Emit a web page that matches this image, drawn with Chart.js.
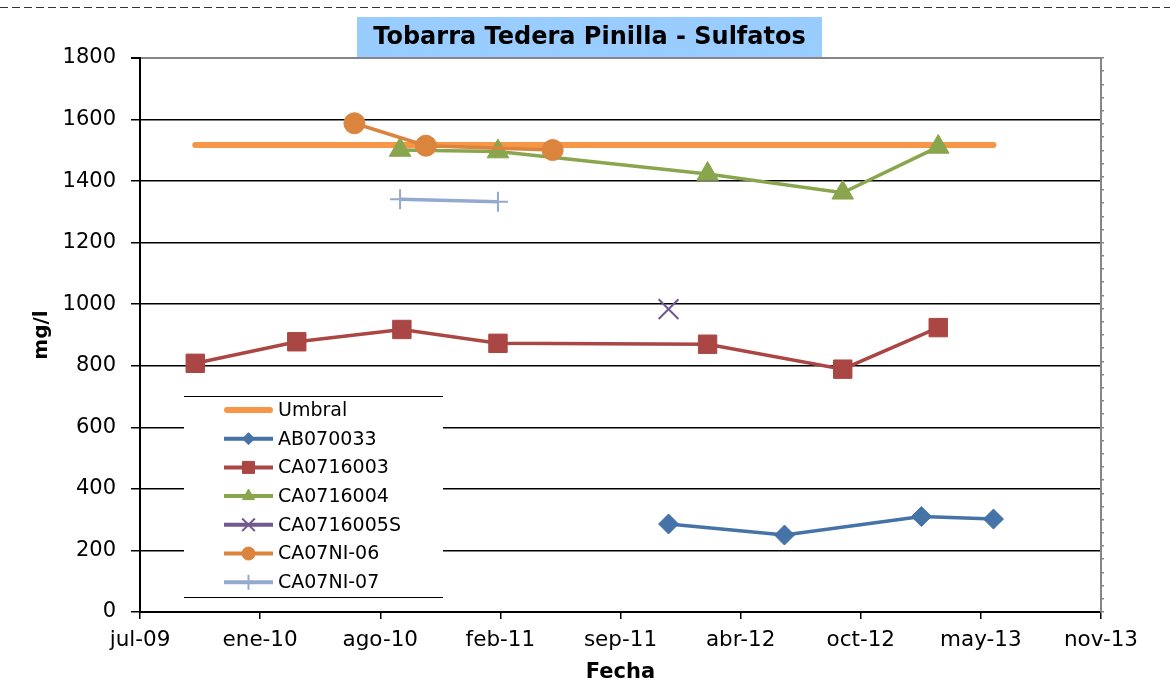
<!DOCTYPE html>
<html>
<head>
<meta charset="utf-8">
<script src="https://cdn.jsdelivr.net/npm/chart.js@4/dist/chart.umd.min.js"></script>
<style>
  body { margin: 0; background: #fff; }
  #wrap { width: 1170px; height: 696px; }
</style>
</head>
<body>
<div id="wrap"><canvas id="sulfatos" width="1170" height="696"></canvas></div>
<script>
// datos (fechas de muestreo y sulfatos en mg/l)
const umbralDates = ['2009-10-06', '2013-05-27'];
const umbralValues = [1517, 1517];

const ab070033Dates = ['2011-12-03', '2012-06-13', '2013-01-27', '2013-05-27'];
const ab070033Values = [286, 250, 310, 302];

const ca0716003Dates = ['2009-10-06', '2010-03-24', '2010-09-15', '2011-02-22', '2012-02-06', '2012-09-18', '2013-02-24'];
const ca0716003Values = [808, 878, 918, 873, 870, 789, 924];

const ca0716004Dates = ['2010-09-12', '2011-02-22', '2012-02-06', '2012-09-18', '2013-02-24'];
const ca0716004Values = [1501, 1496, 1423, 1362, 1511];

const ca0716005SDates = ['2011-12-03'];
const ca0716005SValues = [984];

const ni06Dates = ['2010-06-28', '2010-10-25', '2011-05-24'];
const ni06Values = [1588, 1515, 1501];

const ni07Dates = ['2010-09-12', '2011-02-22'];
const ni07Values = [1341, 1333];

const meses = ['ene', 'feb', 'mar', 'abr', 'may', 'jun', 'jul', 'ago', 'sep', 'oct', 'nov', 'dic'];

// fecha -> numero de serie de Excel
function toSerial(s) {
  const [y, m, d] = s.split('-').map(Number);
  return Date.UTC(y, m - 1, d) / 86400000 + 25569;
}

function serialLabel(v) {
  const d = new Date((v - 25569) * 86400000);
  return meses[d.getUTCMonth()] + '-' + String(d.getUTCFullYear()).slice(2);
}

function pts(dates, values) {
  return dates.map((d, i) => ({ x: toSerial(d), y: values[i] }));
}

Chart.defaults.font.family = 'DejaVu Sans';
Chart.defaults.color = '#000';

const series = [
  { label: 'Umbral', data: pts(umbralDates, umbralValues), color: '#F79646', width: 6, style: false, r: 0, lr: 0, order: 7 },
  { label: 'AB070033', data: pts(ab070033Dates, ab070033Values), color: '#4572A7', width: 3.5, style: 'rectRot', r: 10, lr: 6, order: 6 },
  { label: 'CA0716003', data: pts(ca0716003Dates, ca0716003Values), color: '#AA4643', width: 3.5, style: 'rect', r: 13, lr: 8.5, order: 5 },
  { label: 'CA0716004', data: pts(ca0716004Dates, ca0716004Values), color: '#89A54E', width: 3.5, style: 'triangle', r: 12.5, lr: 7, order: 4 },
  { label: 'CA0716005S', data: pts(ca0716005SDates, ca0716005SValues), color: '#71588F', width: 3.5, style: 'crossRot', r: 14, lr: 9, order: 3 },
  { label: 'CA07NI-06', data: pts(ni06Dates, ni06Values), color: '#DB843D', width: 3.5, style: 'circle', r: 10.5, lr: 6.5, order: 2 },
  { label: 'CA07NI-07', data: pts(ni07Dates, ni07Values), color: '#93A9CF', width: 3.5, style: 'cross', r: 10, lr: 7.5, order: 1 }
];

const datasets = series.map(s => ({
  label: s.label,
  data: s.data,
  borderColor: s.color,
  backgroundColor: s.color,
  borderWidth: s.width,
  borderCapStyle: s.label === 'Umbral' ? 'round' : 'butt',
  pointStyle: s.style,
  pointRadius: s.r,
  pointHoverRadius: s.r,
  pointBorderWidth: (s.style === 'cross' || s.style === 'crossRot') ? 2 : 1,
  pointBorderColor: s.color,
  pointBackgroundColor: s.color,
  tension: 0,
  order: s.order,
  legendR: s.lr
}));

// titulo con recuadro azul y linea discontinua superior
const titleBox = {
  id: 'titleBox',
  afterDraw(chart) {
    const ctx = chart.ctx;
    ctx.save();
    ctx.strokeStyle = '#333';
    ctx.lineWidth = 1;
    ctx.setLineDash([8, 4]);
    ctx.beginPath();
    ctx.moveTo(0, 7.5);
    ctx.lineTo(chart.width, 7.5);
    ctx.stroke();
    ctx.setLineDash([]);

    ctx.fillStyle = '#99CCFF';
    ctx.fillRect(357, 17, 465, 40);
    ctx.fillStyle = '#000';
    ctx.font = 'bold 24px "DejaVu Sans"';
    ctx.textAlign = 'center';
    ctx.textBaseline = 'middle';
    ctx.fillText('Tobarra Tedera Pinilla - Sulfatos', 589.5, 38);
    ctx.restore();
  }
};

// leyenda dentro del area del grafico
const boxLegend = {
  id: 'boxLegend',
  afterDraw(chart) {
    const ctx = chart.ctx;
    const x0 = 184, x1 = 443, y0 = 396, y1 = 597;
    ctx.save();
    ctx.fillStyle = '#fff';
    ctx.fillRect(x0, y0, x1 - x0, y1 - y0);
    ctx.strokeStyle = '#000';
    ctx.lineWidth = 1;
    ctx.beginPath();
    ctx.moveTo(x0, y0 + 0.5); ctx.lineTo(x1, y0 + 0.5);
    ctx.moveTo(x0, y1 + 0.5); ctx.lineTo(x1, y1 + 0.5);
    ctx.stroke();

    ctx.font = '19px "DejaVu Sans"';
    ctx.textBaseline = 'middle';
    ctx.textAlign = 'left';
    chart.data.datasets.forEach((ds, i) => {
      const y = 410 + i * 28.7;
      ctx.strokeStyle = ds.borderColor;
      ctx.lineWidth = ds.label === 'Umbral' ? 6 : 4;
      ctx.lineCap = ds.label === 'Umbral' ? 'round' : 'butt';
      ctx.beginPath();
      ctx.moveTo(ds.label === 'Umbral' ? 227 : 224, y);
      ctx.lineTo(ds.label === 'Umbral' ? 270 : 273, y);
      ctx.stroke();
      if (ds.pointStyle && Chart.helpers && Chart.helpers.drawPoint) {
        ctx.fillStyle = ds.pointBackgroundColor;
        ctx.strokeStyle = ds.pointBorderColor;
        ctx.lineWidth = ds.pointBorderWidth;
        Chart.helpers.drawPoint(ctx, {
          pointStyle: ds.pointStyle, radius: ds.legendR, rotation: 0, borderWidth: ds.pointBorderWidth
        }, 248.5, y);
      }
      ctx.fillStyle = '#000';
      ctx.fillText(ds.label, 278, y + 1);
    });
    ctx.restore();
  }
};

new Chart(document.getElementById('sulfatos'), {
  type: 'line',
  data: { datasets: datasets },
  plugins: [titleBox, boxLegend],
  options: {
    responsive: false,
    animation: false,
    devicePixelRatio: 1,
    layout: { padding: { top: 58, left: 0, right: 0, bottom: 0 } },
    plugins: {
      legend: { display: false },
      tooltip: { enabled: false }
    },
    scales: {
      x: {
        type: 'linear',
        min: 40000,
        max: 41600,
        ticks: {
          stepSize: 200,
          autoSkip: false,
          maxRotation: 0,
          padding: 9,
          font: { size: 21.5 },
          callback: v => serialLabel(v)
        },
        grid: {
          drawOnChartArea: false,
          drawTicks: true,
          tickLength: 7,
          tickColor: '#000',
          lineWidth: 1.5
        },
        border: { color: '#000', width: 2 },
        title: {
          display: true,
          text: 'Fecha',
          font: { size: 21, weight: 'bold' },
          padding: { top: 0, bottom: 11 }
        },
        afterFit: s => { s.height = 84; }
      },
      y: {
        min: 0,
        max: 1800,
        ticks: {
          stepSize: 200,
          padding: 15,
          font: { size: 21 },
          callback: v => String(v)
        },
        grid: {
          color: ctx => (ctx.tick && ctx.tick.value === 1800) ? '#868686' : '#000',
          lineWidth: ctx => (ctx.tick && ctx.tick.value === 1800) ? 2 : 1.5,
          tickColor: '#000',
          tickLength: 9
        },
        border: { color: '#000', width: 2 },
        title: {
          display: true,
          text: 'mg/l',
          font: { size: 20, weight: 'bold' },
          padding: { top: 30, bottom: 0 }
        },
        afterFit: s => { s.width = 140; }
      },
      y2: {
        position: 'right',
        min: 0,
        max: 1800,
        ticks: { display: false, count: 43 },
        grid: {
          drawOnChartArea: false,
          drawTicks: true,
          tickLength: 3,
          tickColor: '#868686',
          lineWidth: 1.5
        },
        border: { color: '#868686', width: 2 },
        afterFit: s => { s.width = 69; }
      }
    }
  }
});
</script>
</body>
</html>
